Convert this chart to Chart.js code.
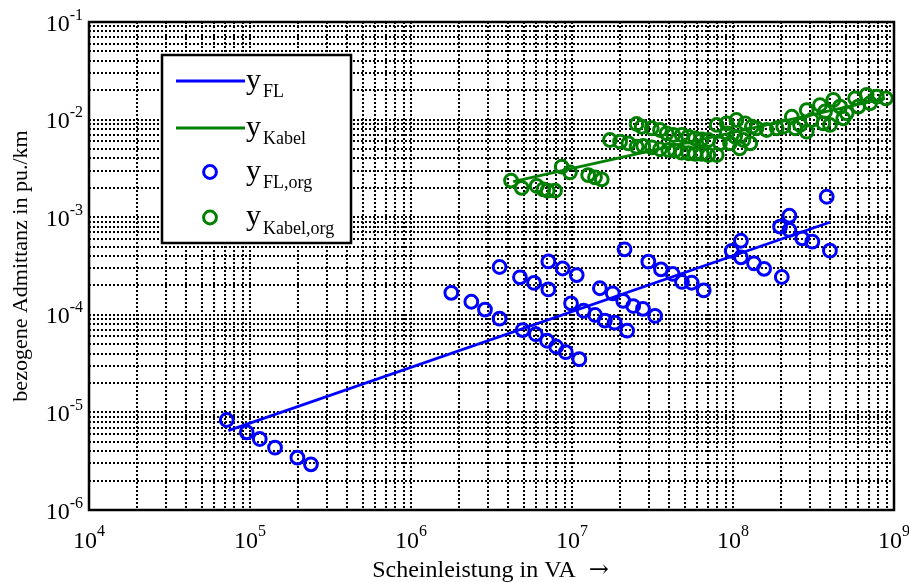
<!DOCTYPE html>
<html lang="de">
<head>
    <meta charset="UTF-8">
    <title>Bezogene Admittanz</title>
    <script src="https://cdn.jsdelivr.net/npm/chart.js"></script>
    <style>
        body { margin: 0; background: #ffffff; }
        #wrap { width: 909px; height: 582px; }
    </style>
</head>
<body>
    <div id="wrap"><canvas id="chart" width="909" height="582"></canvas></div>

    <script>
        // Freileitung, Einzelwerte [S in VA, y in pu./km]
        const flOrg = [
            [7.17e4, 8.36e-6], [9.54e4, 6.25e-6], [1.15e5, 5.34e-6], [1.43e5, 4.35e-6],
            [1.97e5, 3.44e-6], [2.39e5, 2.94e-6],
            [1.78e6, 1.68e-4], [2.37e6, 1.36e-4], [2.88e6, 1.13e-4], [3.55e6, 9.12e-5],
            [3.55e6, 3.09e-4], [4.75e6, 2.42e-4], [5.81e6, 2.12e-4], [7.13e6, 1.82e-4],
            [7.13e6, 3.52e-4], [8.75e6, 2.98e-4], [1.07e7, 2.55e-4],
            [4.94e6, 6.98e-5], [5.96e6, 6.32e-5], [7.00e6, 5.42e-5], [7.98e6, 4.71e-5],
            [9.15e6, 4.14e-5], [1.11e7, 3.51e-5],
            [9.86e6, 1.31e-4], [1.18e7, 1.10e-4], [1.39e7, 9.95e-5], [1.60e7, 8.71e-5],
            [1.84e7, 8.30e-5], [2.20e7, 6.87e-5],
            [1.49e7, 1.87e-4], [1.79e7, 1.66e-4], [2.08e7, 1.39e-4], [2.40e7, 1.23e-4],
            [2.76e7, 1.15e-4], [3.28e7, 9.73e-5],
            [2.12e7, 4.69e-4], [2.98e7, 3.50e-4], [3.57e7, 2.92e-4], [4.22e7, 2.62e-4],
            [4.82e7, 2.17e-4], [5.54e7, 2.13e-4], [6.58e7, 1.78e-4],
            [9.82e7, 4.51e-4], [1.12e8, 5.74e-4], [1.12e8, 3.88e-4], [1.35e8, 3.37e-4],
            [1.56e8, 2.96e-4], [2.01e8, 2.44e-4],
            [1.96e8, 8.00e-4], [2.24e8, 1.035e-3], [2.24e8, 7.40e-4], [2.69e8, 6.08e-4],
            [3.11e8, 5.61e-4], [3.82e8, 1.62e-3], [4.00e8, 4.54e-4]
        ];

        // Kabel, Einzelwerte
        const kabelOrg = [
            [4.18e6, 2.37e-3], [4.87e6, 2.00e-3], [6.04e6, 2.09e-3], [6.64e6, 1.93e-3],
            [7.06e6, 1.87e-3], [7.84e6, 1.87e-3], [8.63e6, 3.29e-3], [9.72e6, 2.88e-3],
            [1.26e7, 2.70e-3], [1.39e7, 2.56e-3], [1.53e7, 2.44e-3],
            [1.72e7, 6.18e-3], [1.99e7, 5.94e-3], [2.24e7, 5.71e-3], [2.52e7, 5.27e-3],
            [2.52e7, 9.02e-3], [2.71e7, 8.45e-3], [3.13e7, 8.15e-3], [3.52e7, 7.82e-3],
            [3.87e7, 7.24e-3], [4.26e7, 6.95e-3], [4.80e7, 6.95e-3], [5.28e7, 6.68e-3],
            [5.81e7, 6.43e-3], [6.39e7, 6.28e-3], [7.03e7, 6.18e-3],
            [2.77e7, 5.37e-3], [3.13e7, 5.20e-3], [3.52e7, 4.97e-3], [3.96e7, 4.89e-3],
            [4.36e7, 4.80e-3], [4.80e7, 4.58e-3], [5.28e7, 4.52e-3], [5.81e7, 4.45e-3],
            [6.39e7, 4.45e-3], [7.03e7, 4.34e-3], [7.92e7, 4.34e-3],
            [7.92e7, 8.81e-3], [9.14e7, 9.16e-3], [1.05e8, 9.91e-3], [1.19e8, 9.16e-3],
            [1.31e8, 8.45e-3], [9.14e7, 7.24e-3], [1.03e8, 6.68e-3], [1.16e8, 6.18e-3],
            [1.28e8, 5.71e-3], [1.10e8, 5.08e-3], [8.30e7, 5.71e-3], [9.58e7, 5.71e-3],
            [1.40e8, 8.15e-3], [1.62e8, 7.82e-3], [1.87e8, 8.15e-3], [2.05e8, 8.45e-3],
            [2.32e8, 1.07e-2], [2.43e8, 8.15e-3], [2.61e8, 8.81e-3], [2.87e8, 7.52e-3],
            [2.87e8, 1.25e-2], [3.08e8, 9.91e-3], [3.47e8, 1.41e-2], [3.73e8, 1.21e-2],
            [3.64e8, 9.16e-3], [4.00e8, 8.81e-3], [4.20e8, 1.59e-2], [4.62e8, 1.36e-2],
            [5.08e8, 1.16e-2], [4.84e8, 1.03e-2], [5.73e8, 1.65e-2], [6.00e8, 1.36e-2],
            [7.10e8, 1.47e-2], [6.76e8, 1.79e-2], [7.81e8, 1.72e-2], [8.90e8, 1.65e-2]
        ];

        // Ausgleichsgeraden (Anfang, Ende)
        const flFitX = [7.33e4, 4.0e8];
        const flFitY = [6.5e-6, 8.87e-4];
        const kabelFitX = [4.31e6, 8.8e8];
        const kabelFitY = [2.31e-3, 1.65e-2];

        // Dekaden der Achsen
        const xExps = [4, 5, 6, 7, 8, 9];
        const yExps = [-6, -5, -4, -3, -2, -1];

        const FONT = '"Liberation Serif", "Times New Roman", serif';
        const BLUE = '#0000ff';
        const GREEN = '#008000';

        function logTicks(exps) {
            const out = [];
            for (let i = 0; i < exps.length; i++) {
                const base = Math.pow(10, exps[i]);
                const last = i === exps.length - 1 ? 1 : 9;
                for (let m = 1; m <= last; m++) out.push({ value: m * base });
            }
            return out;
        }

        const toPts = arr => arr.map(p => ({ x: p[0], y: p[1] }));
        const fitPts = (xs, ys) => xs.map((x, i) => ({ x: x, y: ys[i] }));

        // 10^n Beschriftung mit hochgestelltem Exponent, x-Achsentitel mit Pfeil
        const tickLabels = {
            id: 'tickLabels',
            afterDraw(chart) {
                const ctx = chart.ctx;
                const area = chart.chartArea;
                const xs = chart.scales.x, ys = chart.scales.y;
                ctx.save();
                ctx.fillStyle = '#000';
                ctx.textBaseline = 'alphabetic';
                ctx.textAlign = 'left';
                xExps.forEach(e => {
                    const px = xs.getPixelForValue(Math.pow(10, e));
                    ctx.font = '24px ' + FONT;
                    const w1 = ctx.measureText('10').width;
                    ctx.font = '16px ' + FONT;
                    const w2 = ctx.measureText(String(e)).width;
                    const left = px - (w1 + w2) / 2;
                    ctx.font = '24px ' + FONT;
                    ctx.fillText('10', left, area.bottom + 38);
                    ctx.font = '16px ' + FONT;
                    ctx.fillText(String(e), left + w1, area.bottom + 26);
                });
                yExps.forEach(e => {
                    const py = ys.getPixelForValue(Math.pow(10, e));
                    const ex = String(e);
                    ctx.font = '24px ' + FONT;
                    const w1 = ctx.measureText('10').width;
                    ctx.font = '16px ' + FONT;
                    const w2 = ctx.measureText(ex).width;
                    const right = area.left - 6;
                    ctx.font = '24px ' + FONT;
                    ctx.fillText('10', right - w2 - w1, py + 8.5);
                    ctx.font = '16px ' + FONT;
                    ctx.fillText(ex, right - w2, py - 2.5);
                });

                // x-Achsentitel
                const title = 'Scheinleistung in VA';
                ctx.font = '24px ' + FONT;
                const tw = ctx.measureText(title).width;
                ctx.font = '24px "DejaVu Serif"';
                const aw = ctx.measureText('\u2192').width;
                const total = tw + 13 + aw;
                const cx = (area.left + area.right) / 2 - 1;
                const x0 = cx - total / 2;
                ctx.font = '24px ' + FONT;
                ctx.fillText(title, x0, 577);
                ctx.font = '24px "DejaVu Serif"';
                ctx.fillText('\u2192', x0 + tw + 13, 577);
                ctx.restore();
            }
        };

        // Rahmen um die Achsen
        const axesBox = {
            id: 'axesBox',
            afterDatasetsDraw(chart) {
                const a = chart.chartArea;
                const ctx = chart.ctx;
                ctx.save();
                ctx.lineWidth = 2.5;
                ctx.strokeStyle = '#000';
                ctx.strokeRect(a.left, a.top, a.right - a.left, a.bottom - a.top);
                ctx.restore();
            }
        };

        // Legende mit tiefgestellten Indizes
        const subLegend = {
            id: 'subLegend',
            afterDraw(chart) {
                const ctx = chart.ctx;
                const a = chart.chartArea;
                const bx = a.left + 73, by = a.top + 33, bw = 189, bh = 188;
                const rows = [26, 73, 117, 162.5];
                ctx.save();
                ctx.fillStyle = '#fff';
                ctx.fillRect(bx, by, bw, bh);
                ctx.lineWidth = 2.5;
                ctx.strokeStyle = '#000';
                ctx.strokeRect(bx, by, bw, bh);
                chart.data.datasets.forEach((ds, i) => {
                    const cy = by + rows[i];
                    if (ds.showLine === false) {
                        ctx.beginPath();
                        ctx.lineWidth = ds.pointBorderWidth;
                        ctx.strokeStyle = ds.pointBorderColor;
                        ctx.arc(bx + 48, cy, ds.pointRadius, 0, Math.PI * 2);
                        ctx.stroke();
                    } else {
                        ctx.beginPath();
                        ctx.lineWidth = ds.borderWidth;
                        ctx.strokeStyle = ds.borderColor;
                        ctx.moveTo(bx + 14, cy);
                        ctx.lineTo(bx + 83, cy);
                        ctx.stroke();
                    }
                    const parts = ds.label.split('_');
                    ctx.fillStyle = '#000';
                    ctx.textAlign = 'left';
                    ctx.textBaseline = 'alphabetic';
                    ctx.font = '30px ' + FONT;
                    const tx = bx + 84;
                    ctx.fillText(parts[0], tx, cy + 7.5);
                    const w = ctx.measureText(parts[0]).width;
                    ctx.font = '18px ' + FONT;
                    ctx.fillText(parts[1], tx + w + 2, cy + 16);
                });
                ctx.restore();
            }
        };

        const gridOpts = { color: '#000000', lineWidth: 2, drawTicks: false };
        const borderOpts = { display: false, dash: [2, 2] };

        new Chart(document.getElementById('chart'), {
            type: 'scatter',
            data: {
                datasets: [
                    {
                        label: 'y_FL', type: 'line', data: fitPts(flFitX, flFitY),
                        borderColor: BLUE, borderWidth: 2.8, pointRadius: 0, fill: false
                    },
                    {
                        label: 'y_Kabel', type: 'line', data: fitPts(kabelFitX, kabelFitY),
                        borderColor: GREEN, borderWidth: 2.8, pointRadius: 0, fill: false
                    },
                    {
                        label: 'y_FL,org', data: toPts(flOrg), showLine: false,
                        pointBorderColor: BLUE, pointBackgroundColor: 'rgba(0,0,0,0)',
                        pointRadius: 6.4, pointBorderWidth: 3
                    },
                    {
                        label: 'y_Kabel,org', data: toPts(kabelOrg), showLine: false,
                        pointBorderColor: GREEN, pointBackgroundColor: 'rgba(0,0,0,0)',
                        pointRadius: 6.4, pointBorderWidth: 3
                    }
                ]
            },
            options: {
                responsive: false,
                animation: false,
                layout: { padding: { top: 22, right: 15, left: 0, bottom: 0 } },
                plugins: {
                    legend: { display: false },
                    tooltip: { enabled: false }
                },
                scales: {
                    x: {
                        type: 'logarithmic', position: 'bottom', min: 1e4, max: 1e9,
                        afterBuildTicks: s => { s.ticks = logTicks(xExps); },
                        afterFit: s => { s.height = 72; },
                        ticks: { display: false },
                        grid: gridOpts,
                        border: borderOpts,
                        title: { display: false }
                    },
                    y: {
                        type: 'logarithmic', position: 'left', min: 1e-6, max: 1e-1,
                        afterBuildTicks: s => { s.ticks = logTicks(yExps); },
                        afterFit: s => { s.width = 89; },
                        ticks: { display: false },
                        grid: gridOpts,
                        border: borderOpts,
                        title: {
                            display: true, text: 'bezogene Admittanz in pu./km', color: '#000',
                            font: { family: FONT, size: 22 }, padding: { top: 8, bottom: 0 }
                        }
                    }
                }
            },
            plugins: [axesBox, tickLabels, subLegend]
        });
    </script>
</body>
</html>
